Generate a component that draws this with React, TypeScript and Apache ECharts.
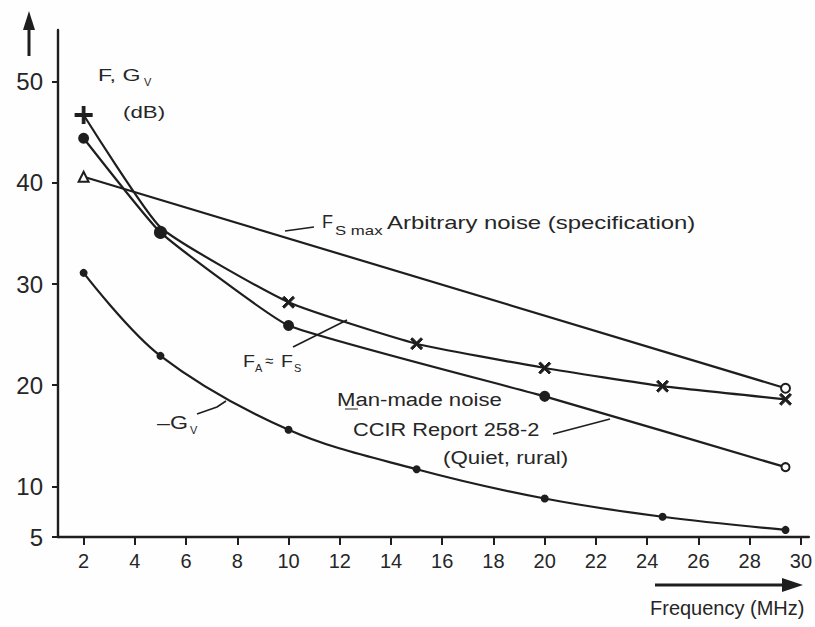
import React, { useEffect, useRef } from "react";
import * as echarts from "echarts";

// Frequency (MHz) and level (dB) values
const freqFA = [2, 5, 10, 15, 20, 24.6, 29.4];
const valFA = [46.7, 35.6, 28.2, 24.1, 21.7, 19.9, 18.6];

const freqMM = [2, 5, 10, 20, 29.4];
const valMM = [44.4, 35.1, 25.9, 18.9, 11.9];

const freqSpec = [2, 29.4];
const valSpec = [40.6, 19.7];

const freqGv = [2, 5, 10, 15, 20, 24.6, 29.4];
const valGv = [31.1, 22.9, 15.6, 11.7, 8.8, 7.0, 5.7];

const xTicks = [2, 4, 6, 8, 10, 12, 14, 16, 18, 20, 22, 24, 26, 28, 30];
const yTicks = [5, 10, 20, 30, 40, 50];

const INK = "#1e1e1e";
const TXT = "#262626";
const FONT = "Liberation Sans, Arial, sans-serif";
const XMARK = "path://M0,1.4L1.4,0L5,3.6L8.6,0L10,1.4L6.4,5L10,8.6L8.6,10L5,6.4L1.4,10L0,8.6L3.6,5Z";

function txt(text: string, x: number, y: number, size: number, sx = 1) {
  return {
    type: "text",
    x,
    y,
    scaleX: sx,
    silent: true,
    style: {
      text,
      fill: TXT,
      fontSize: size,
      fontFamily: FONT,
      textAlign: "left",
      textVerticalAlign: "middle",
      verticalAlign: "middle",
    },
  };
}

function seg(points: number[][], w = 1.6) {
  return {
    type: "polyline",
    silent: true,
    shape: { points },
    style: { stroke: INK, lineWidth: w, fill: "none" },
  };
}

export default function App() {
  const ref = useRef<HTMLDivElement>(null);

  useEffect(() => {
    if (!ref.current) return;
    const chart = echarts.init(ref.current, null, { renderer: "svg" });

    const faData = freqFA.map((f, i) => {
      const item: any = { value: [f, valFA[i]] };
      if (i === 0) {
        item.symbolRotate = 45;
        item.symbolSize = 14;
      }
      if (f === 5) {
        item.symbol = "none";
      }
      return item;
    });
    const mmData = freqMM.map((f, i) => {
      const item: any = { value: [f, valMM[i]] };
      if (f === 5) item.symbolSize = 11;
      if (i === freqMM.length - 1) {
        item.symbol = "emptyCircle";
        item.symbolSize = 8;
      }
      return item;
    });
    const specData = freqSpec.map((f, i) => ({
      value: [f, valSpec[i]],
      symbol: i === 0 ? "emptyTriangle" : "emptyCircle",
      symbolSize: i === 0 ? 10 : 9,
    }));
    const gvData = freqGv.map((f, i) => [f, valGv[i]]);

    const lineStyle = { color: INK, width: 2.2 };

    chart.setOption({
      animation: false,
      backgroundColor: "#fefefe",
      grid: { left: 58, right: 6, top: 30, bottom: 90, containLabel: false },
      xAxis: {
        type: "value",
        min: 1,
        max: 30.31,
        axisLine: { show: true, lineStyle: { color: INK, width: 2.4 } },
        axisTick: {
          show: true,
          customValues: xTicks,
          length: 8,
          lineStyle: { color: INK, width: 2 },
        },
        axisLabel: {
          customValues: xTicks,
          color: TXT,
          fontSize: 20,
          fontFamily: FONT,
          margin: 14,
        },
        splitLine: { show: false },
      },
      yAxis: {
        type: "value",
        min: 5,
        max: 55.1,
        axisLine: { show: true, lineStyle: { color: INK, width: 2.4 } },
        axisTick: {
          show: true,
          customValues: yTicks,
          length: 6,
          lineStyle: { color: INK, width: 2 },
        },
        axisLabel: {
          customValues: yTicks,
          color: TXT,
          fontSize: 24,
          fontFamily: FONT,
          margin: 15,
        },
        splitLine: { show: false },
      },
      series: [
        {
          name: "FA",
          type: "line",
          data: faData,
          smooth: 0.15,
          symbol: XMARK,
          symbolSize: 12,
          itemStyle: { color: INK, borderColor: INK, borderWidth: 1 },
          lineStyle,
          z: 3,
        },
        {
          name: "Man-made",
          type: "line",
          data: mmData,
          smooth: 0.12,
          symbol: "circle",
          symbolSize: 9,
          itemStyle: { color: INK, borderColor: INK, borderWidth: 2 },
          lineStyle,
          z: 3,
        },
        {
          name: "Spec",
          type: "line",
          data: specData,
          itemStyle: { color: INK, borderColor: INK, borderWidth: 2 },
          lineStyle,
          z: 2,
        },
        {
          name: "Gv",
          type: "line",
          data: gvData,
          smooth: 0.35,
          symbol: "circle",
          symbolSize: 8,
          itemStyle: { color: INK },
          lineStyle,
          z: 3,
        },
      ],
      graphic: [
        // y-axis arrow
        seg([[29, 56], [29, 24]], 3),
        { type: "polygon", silent: true, shape: { points: [[23, 30], [29, 11], [35, 30]] }, style: { fill: INK } },
        // x-axis arrow
        seg([[655, 585], [786, 585]], 3),
        { type: "polygon", silent: true, shape: { points: [[782, 578], [803, 585], [782, 592]] }, style: { fill: INK } },
        txt("Frequency (MHz)", 650, 608, 20),
        // y-axis title
        txt("F, G", 98, 75, 17, 1.36),
        txt("V", 144, 82, 11),
        txt("(dB)", 123, 112, 17, 1.31),
        // spec annotation
        seg([[285, 231], [314, 227]]),
        txt("F", 322, 222, 18),
        txt("S max", 335, 231, 12, 1.4),
        txt("Arbitrary noise (specification)", 387, 223, 18, 1.33),
        // FA = FS annotation
        seg([[293, 347], [347, 320]]),
        txt("F", 243, 361, 17, 1.15),
        txt("A", 255, 368, 11),
        txt("\u2248", 265, 360, 15),
        txt("F", 281, 361, 17, 1.15),
        txt("S", 294, 368, 11),
        // man-made noise annotation
        txt("Man-made noise", 337, 400, 18, 1.23),
        seg([[345, 409], [358, 409]], 1),
        txt("CCIR Report 258-2", 353, 430, 18, 1.21),
        txt("(Quiet, rural)", 443, 458, 18, 1.24),
        seg([[553, 434], [610, 419]]),
        // -Gv annotation
        txt("\u2013G", 157, 423, 18, 1.29),
        txt("V", 190, 430, 11),
        seg([[197, 414], [217, 407], [226, 401]]),
      ],
    });

    return () => chart.dispose();
  }, []);

  return (
    <div
      ref={ref}
      style={{ position: "fixed", left: 0, top: 0, width: 815, height: 627 }}
    />
  );
}
